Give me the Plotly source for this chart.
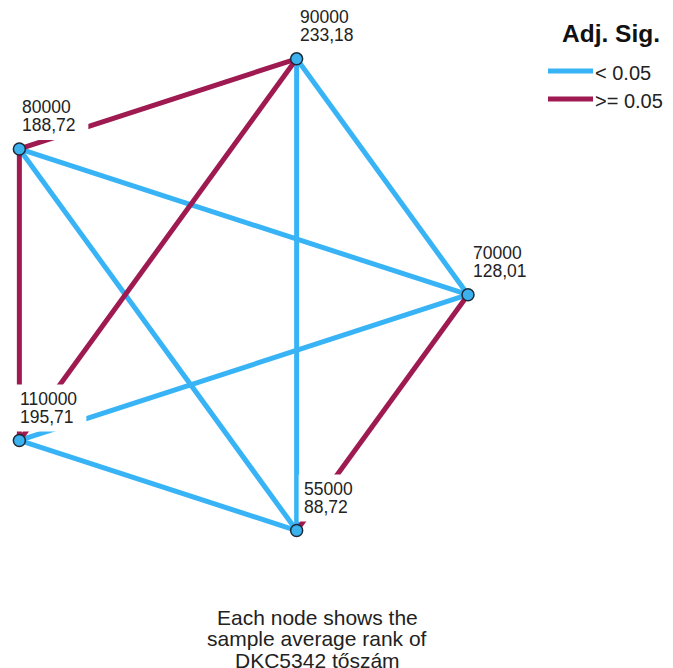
import math
import plotly.graph_objects as go

# ---------------- data ----------------
groups = ["70000", "90000", "80000", "110000", "55000"]
mean_ranks = [128.01, 233.18, 188.72, 195.71, 88.72]

edge_from = ["80000", "90000", "80000", "70000",
             "90000", "90000", "80000", "80000", "110000", "110000"]
edge_to = ["90000", "110000", "110000", "55000",
           "70000", "55000", "70000", "55000", "70000", "55000"]
edge_significant = [False, False, False, False,
                    True, True, True, True, True, True]

legend_labels = ["< 0.05", ">= 0.05"]
legend_title = "Adj. Sig."
caption_lines = ["Each node shows the", "sample average rank of", "DKC5342 tőszám"]

# ---------------- style ----------------
BLUE = "#38B4F6"
RED = "#9E1A50"
NODE_FILL = "#3BB2EE"
NODE_LINE = "#1E2A38"
FONT = "Liberation Sans, Arial, sans-serif"
W, H = 673, 668
OFF = 8  # page body margin: the figure starts 8px in from the window corner
label_dx = [5, 3, 3, 1, 7]   # pixel offset of label text from node

# circular layout (unit circle); nodes counter-clockwise from 0 deg
n = len(groups)
pos = {}
for i, g in enumerate(groups):
    a = 2 * math.pi * i / n
    pos[g] = (math.cos(a), math.sin(a))

# axis ranges map the unit circle onto the page
cx, cy, r = 220.0 - OFF, 294.7 - OFF, 248.0
xr = [-cx / r, (W - cx) / r]
yr = [(cy - H) / r, cy / r]

def px(x):
    return (x - OFF) / W

def py(y):
    return 1 - (y - OFF) / H

fig = go.Figure()

def edge_trace(sig, color):
    xs, ys = [], []
    for a, b, s in zip(edge_from, edge_to, edge_significant):
        if s == sig:
            xs += [pos[a][0], pos[b][0], None]
            ys += [pos[a][1], pos[b][1], None]
    return go.Scatter(x=xs, y=ys, mode="lines",
                      line=dict(color=color, width=5),
                      hoverinfo="skip", showlegend=False)

fig.add_trace(edge_trace(True, BLUE))
fig.add_trace(edge_trace(False, RED))

fig.add_trace(go.Scatter(
    x=[pos[g][0] for g in groups], y=[pos[g][1] for g in groups],
    mode="markers",
    marker=dict(size=12, color=NODE_FILL, line=dict(color=NODE_LINE, width=1.5)),
    cliponaxis=False, showlegend=False,
    text=groups, hoverinfo="text"))

shapes = []
annotations = []
for g, v, dx in zip(groups, mean_ranks, label_dx):
    x, y = pos[g]
    # white label background that hides the lines behind it
    shapes.append(dict(type="rect", xref="x", yref="y",
                       xsizemode="pixel", ysizemode="pixel",
                       xanchor=x, yanchor=y,
                       x0=dx - 5, x1=dx + 66, y0=9, y1=56,
                       fillcolor="white", line=dict(width=0), layer="above"))
    for txt, ys in ((g, 41.7), (f"{v:.2f}".replace(".", ","), 23.7)):
        annotations.append(dict(x=x, y=y, xref="x", yref="y", text=txt,
                                showarrow=False, xanchor="left", yanchor="middle",
                                xshift=dx, yshift=ys, borderpad=0, borderwidth=0,
                                font=dict(family=FONT, size=17.5, color="#222222")))

# legend (manual)
annotations.append(dict(x=px(611), y=py(33), xref="paper", yref="paper",
                        text="<b>" + legend_title + "</b>", showarrow=False,
                        xanchor="center", yanchor="middle",
                        font=dict(family=FONT, size=24.5, color="#111111")))
for i, (lab, col) in enumerate(zip(legend_labels, [BLUE, RED])):
    ly = 71 + 28 * i
    shapes.append(dict(type="line", xref="paper", yref="paper",
                       x0=px(548), x1=px(593), y0=py(ly), y1=py(ly),
                       line=dict(color=col, width=5)))
    annotations.append(dict(x=px(595), y=py(ly + 2), xref="paper", yref="paper",
                            text=lab, showarrow=False, xanchor="left", yanchor="middle",
                            borderpad=0, borderwidth=0,
                            font=dict(family=FONT, size=20, color="#222222")))

# caption
for i, line in enumerate(caption_lines):
    cyp = 617 + 21.5 * i
    annotations.append(dict(x=px(317), y=py(cyp), xref="paper", yref="paper",
                            text=line, showarrow=False, xanchor="center", yanchor="middle",
                            borderpad=0, borderwidth=0,
                            font=dict(family=FONT, size=21, color="#222222")))

fig.update_layout(
    width=W, height=H, autosize=False,
    margin=dict(l=0, r=0, t=0, b=0),
    paper_bgcolor="white", plot_bgcolor="white",
    xaxis=dict(range=xr, visible=False, fixedrange=True),
    yaxis=dict(range=yr, visible=False, fixedrange=True),
    shapes=shapes, annotations=annotations, showlegend=False,
)

fig.write_html("out.html")
